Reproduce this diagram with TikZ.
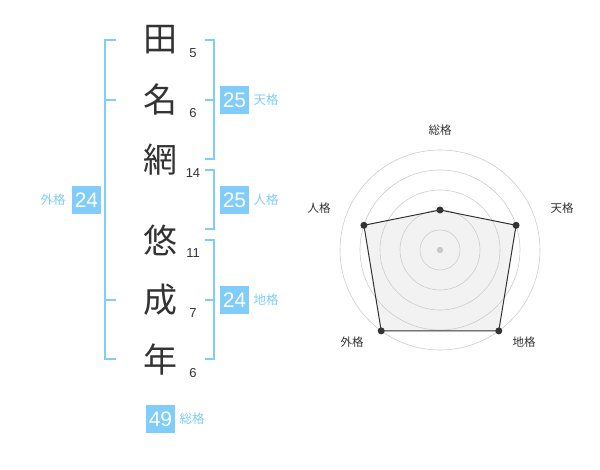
\documentclass[tikz,border=0pt]{standalone}
\usepackage{fontspec}
\setmainfont{Liberation Sans}
\newfontfamily\jpfont{Noto Sans CJK JP}
\usetikzlibrary{positioning}
\definecolor{kakublue}{HTML}{80CCFA}
\definecolor{inkgray}{HTML}{333333}
\definecolor{ringgray}{HTML}{CCCCCC}
\definecolor{polyfill}{HTML}{F2F2F2}
\definecolor{hubgray}{HTML}{C8C8C8}

\begin{document}
\begin{tikzpicture}[x=1pt, y=-1pt,
    every node/.style={inner sep=0pt, outer sep=0pt},
    kanji/.style={font=\jpfont\fontsize{34}{34}\selectfont, text=inkgray},
    strokes/.style={font=\fontsize{13}{13}\selectfont, text=inkgray},
    bracket/.style={draw=kakublue, line width=2pt},
    score/.style={fill=kakublue, text=white, minimum width=29pt, minimum height=28pt,
      font=\fontsize{21}{21}\selectfont},
    kaku/.style={text=kakublue, font=\jpfont\fontsize{12.5}{12.5}\selectfont},
    ring/.style={draw=ringgray, line width=0.6pt},
    axislabel/.style={text=inkgray, font=\jpfont\fontsize{11.5}{11.5}\selectfont},
    dot/.style={circle, fill=inkgray, minimum size=7pt},
  ]
  \useasboundingbox (0,0) rectangle (600,470);

  % name and stroke counts
  \foreach \ch/\y/\n [count=\i] in {田/40/5, 名/100/6, 網/160/14, 悠/240/11, 成/300/7, 年/360/6} {
    \node[kanji] (c\i) at (160,\y) {\ch};
    \node[strokes] (n\i) at (193,\y+13) {\n};
  }

  % brackets
  \draw[bracket] (116,40) -- (105,40) -- (105,359) -- (116,359);
  \draw[bracket] (105,100) -- (116,100) (105,300) -- (116,300);
  \draw[bracket] (205,40) -- (214,40) -- (214,159) -- (205,159) (205,100) -- (214,100);
  \draw[bracket] (205,170) -- (214,170) -- (214,229) -- (205,229);
  \draw[bracket] (205,240) -- (214,240) -- (214,359) -- (205,359) (205,300) -- (214,300);

  % scores
  \node[score] (ten) at (234.5,100) {25};
  \node[kaku, right=4.5pt of ten] (tenl) {天格};
  \node[score] (jin) at (234.5,200) {25};
  \node[kaku, right=4.5pt of jin] (jinl) {人格};
  \node[score] (chi) at (234.5,300) {24};
  \node[kaku, right=4.5pt of chi] (chil) {地格};
  \node[score] (gai) at (86.5,200) {24};
  \node[kaku, left=6.5pt of gai] (gail) {外格};
  \node[score] (sou) at (160.5,419) {49};
  \node[kaku, right=4.5pt of sou] (soul) {総格};

  % radar chart
  \coordinate (o) at (440,250);
  \coordinate (rsou) at ([shift={(-90:40)}]o);
  \coordinate (rten) at ([shift={(-18:80)}]o);
  \coordinate (rchi) at ([shift={(54:100)}]o);
  \coordinate (rgai) at ([shift={(126:100)}]o);
  \coordinate (rjin) at ([shift={(198:80)}]o);
  \fill[polyfill] (rsou) -- (rten) -- (rchi) -- (rgai) -- (rjin) -- cycle;
  \foreach \r in {20,40,...,100}
    \draw[ring] (o) circle (\r);
  \fill[hubgray] (o) circle (3.2);
  \draw[inkgray, line width=1pt] (rsou) -- (rten) -- (rchi) -- (rgai) -- (rjin) -- cycle;
  \foreach \p in {rsou,rten,rchi,rgai,rjin}
    \node[dot] at (\p) {};

  \node[axislabel] (lsou) at (440,130) {総格};
  \node[axislabel] (lten) at (562,208) {天格};
  \node[axislabel] (lchi) at (524,342) {地格};
  \node[axislabel] (lgai) at (352,342) {外格};
  \node[axislabel] (ljin) at (319,208) {人格};
\end{tikzpicture}
\end{document}
